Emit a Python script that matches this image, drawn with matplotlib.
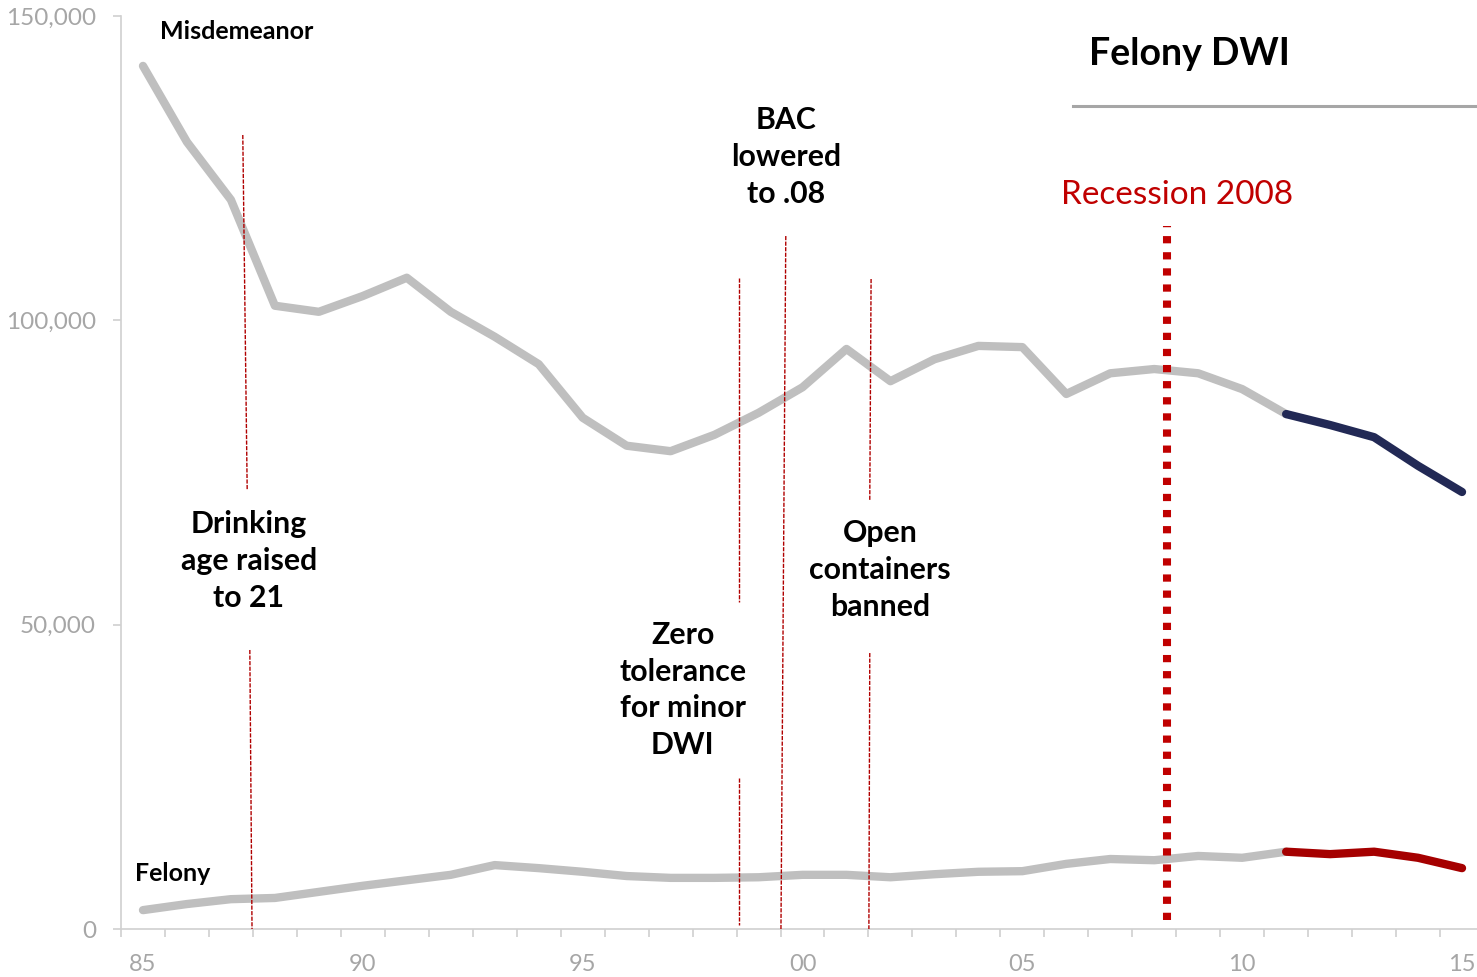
import matplotlib.pyplot as plt
from matplotlib.lines import Line2D
import numpy as np

plt.rcParams['font.family'] = ['Lato', 'DejaVu Sans']

years = np.arange(1985, 2016)
misdemeanor = [141800, 129300, 119800, 102400, 101400, 104000, 107000, 101400,
               97300, 92800, 84000, 79400, 78500, 81200, 84800, 89000, 95300,
               90000, 93600, 95800, 95600, 87900, 91300, 92000, 91300, 88700,
               84600, 82800, 80800, 76100, 71800]
felony = [3100, 4100, 4900, 5100, 6100, 7100, 8000, 8900, 10500, 10000, 9400,
          8700, 8400, 8400, 8500, 8900, 8900, 8500, 9000, 9400, 9500, 10700,
          11500, 11300, 12000, 11700, 12700, 12300, 12700, 11700, 10000]
split_year = 2011
tick_years = [1985, 1990, 1995, 2000, 2005, 2010, 2015]
tick_names = ['85', '90', '95', '00', '05', '10', '15']

# policy markers: (label, text x, text y, line segments [(x0, y0, x1, y1), ...])
events = [
    ('Drinking\nage raised\nto 21', 1987.41, 60460,
     [(1987.27, 130450, 1987.37, 72120), (1987.43, 45840, 1987.48, 0)]),
    ('Zero\ntolerance\nfor minor\nDWI', 1997.28, 39270,
     [(1998.55, 106950, 1998.55, 53720), (1998.55, 24810, 1998.55, 660)]),
    ('BAC\nlowered\nto .08', 1999.62, 126830,
     [(1999.62, 113850, 1999.51, 0)]),
    ('Open\ncontainers\nbanned', 2001.76, 58980,
     [(2001.56, 106790, 2001.53, 70480), (2001.53, 45340, 2001.51, 0)]),
]
recession_x = 2008.29

W, H = 1477, 977
fig = plt.figure(figsize=(W / 100, H / 100), dpi=100)
ax = fig.add_axes([121 / W, 1 - 929 / H, 1363 / W, 913 / H])

gray = '#BFBFBF'
mask = years <= split_year
tail = years >= split_year
mis = np.array(misdemeanor)
fel = np.array(felony)
style = dict(lw=6.0, solid_capstyle='round', solid_joinstyle='round')
ax.plot(years[mask], mis[mask], color=gray, zorder=3, **style)
ax.plot(years[tail], mis[tail], color='#222955', zorder=4, **style)
ax.plot(years[mask], fel[mask], color=gray, zorder=3, **style)
ax.plot(years[tail], fel[tail], color='#A50000', zorder=4, **style)

for label, tx, ty, segs in events:
    for x0, y0, x1, y1 in segs:
        ax.plot([x0, x1], [y0, y1], color='#B00000', lw=1.0,
                linestyle=(0, (3, 1)), zorder=5)
    ax.text(tx, ty, label, ha='center', va='center', fontsize=21.8,
            fontweight='bold', linespacing=1.38, zorder=6)

ax.plot([recession_x, recession_x], [1480, 115490], color='#C00000', lw=5.8,
        linestyle=(0, (0.9, 1.1)), dash_capstyle='butt', zorder=5)
ax.text(2008.52, 120590, 'Recession 2008', ha='center', va='center',
        fontsize=24, color='#C00000')

ax.text(1987.14, 147530, 'Misdemeanor', ha='center', va='center',
        fontsize=18, fontweight='bold')
ax.text(1985.68, 9200, 'Felony', ha='center', va='center',
        fontsize=18, fontweight='bold')
ax.text(2008.79, 143750, 'Felony DWI', ha='center', va='center',
        fontsize=27, fontweight='bold')
fig.add_artist(Line2D([1073 / W, 1.0], [1 - 106 / H, 1 - 106 / H],
                      color='#A6A6A6', lw=2.2))

ax.set_xlim(1984.5, 2015.5)
ax.set_ylim(0, 150000)
ax.set_xticks(tick_years)
ax.set_xticklabels(tick_names)
ax.set_xticks(np.arange(1984.5, 2016, 1), minor=True)
ax.set_yticks([0, 50000, 100000, 150000])
ax.set_yticklabels(['0', '50,000', '100,000', '150,000'])

for s in ['top', 'right']:
    ax.spines[s].set_visible(False)
for s in ['left', 'bottom']:
    ax.spines[s].set_color('#D0D0D0')
    ax.spines[s].set_linewidth(1.2)

ax.tick_params(axis='x', which='major', length=0, pad=18, labelsize=17,
               labelcolor='#A6A6A6')
ax.tick_params(axis='x', which='minor', length=6, width=1.2, color='#D0D0D0')
ax.tick_params(axis='y', length=6, width=1.2, color='#D0D0D0', pad=12,
               labelsize=17.5, labelcolor='#A6A6A6')

fig.savefig('out.png', dpi=100)
